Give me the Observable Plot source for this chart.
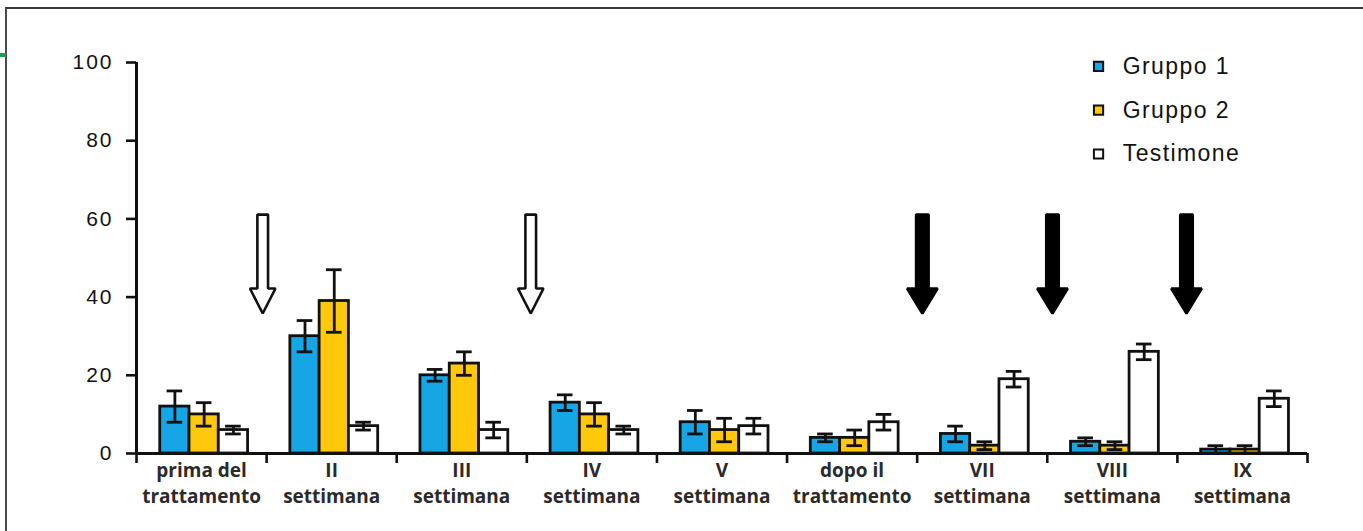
<!DOCTYPE html>
<html>
<head>
<meta charset="utf-8">
<script src="https://cdn.jsdelivr.net/npm/d3@7"></script>
<script src="https://cdn.jsdelivr.net/npm/@observablehq/plot@0.6"></script>
<style>
  html, body { margin: 0; padding: 0; background: #ffffff; overflow: hidden; }
  #wrap { position: relative; width: 1363px; height: 531px; }
  #frame { position: absolute; left: 5px; top: 7px; width: 1400px; height: 600px;
           border-top: 2px solid #3a3a3a; border-left: 2px solid #4a4a4a; }
  #green { position: absolute; left: 0; top: 53px; width: 6px; height: 4px; background: #1b9e4b; }
  #chart { position: absolute; left: 0; top: 0; }
</style>
</head>
<body>
<div id="wrap">
  <div id="frame"></div>
  <div id="green"></div>
  <div id="chart"></div>
</div>
<script>
// ---- data ----
const categories = [
  "prima del\ntrattamento", "II\nsettimana", "III\nsettimana", "IV\nsettimana",
  "V\nsettimana", "dopo il\ntrattamento", "VII\nsettimana", "VIII\nsettimana", "IX\nsettimana"
];
const seriesNames = ["Gruppo 1", "Gruppo 2", "Testimone"];
const seriesColors = ["#16a6e6", "#ffc80a", "#ffffff"];
const gruppo1     = [12, 30, 20, 13, 8, 4, 5, 3, 1];
const gruppo1Err  = [4, 4, 1.5, 2, 3, 1, 2, 1, 1];
const gruppo2     = [10, 39, 23, 10, 6, 4, 2, 2, 1];
const gruppo2Err  = [3, 8, 3, 3, 3, 2, 1, 1, 1];
const testimone   = [6, 7, 6, 6, 7, 8, 19, 26, 14];
const testimoneErr= [1, 1, 2, 1, 2, 2, 2, 2, 2];
const yTicks = [0, 20, 40, 60, 80, 100];
// treatment arrows (position along category axis) : hollow = first treatment, filled = second
const hollowArrowsAt = [0.97, 3.03];
const filledArrowsAt = [6.04, 7.04, 8.07];
const arrowTop = 61.1, arrowNeck = 42.2, arrowTip = 35.8;

// ---- build table ----
const values = [gruppo1, gruppo2, testimone];
const errors = [gruppo1Err, gruppo2Err, testimoneErr];
const rows = [];
seriesNames.forEach((s, si) => {
  categories.forEach((c, ci) => {
    rows.push({series: s, si, ci, value: values[si][ci], err: errors[si][ci]});
  });
});

const barW = 0.225, groupShift = 0.02, capHalf = 0.06;
const center = d => d.ci + 0.5 + groupShift + (d.si - 1) * barW;

function arrowPoints(xs, shaftHalf, headHalf) {
  const pts = [];
  xs.forEach((c, id) => {
    [[c - shaftHalf, arrowTop], [c + shaftHalf, arrowTop], [c + shaftHalf, arrowNeck],
     [c + headHalf, arrowNeck], [c, arrowTip], [c - headHalf, arrowNeck], [c - shaftHalf, arrowNeck]]
      .forEach(([x, y]) => pts.push({id, x, y}));
  });
  return pts;
}

const legendRows = seriesNames.map((s, i) => ({s, i, y: 99 - i * 11.2}));

const chart = Plot.plot({
  width: 1363,
  height: 531,
  marginLeft: 136,
  marginRight: 56,
  marginTop: 62,
  marginBottom: 78,
  style: {fontFamily: "'Liberation Sans', Arial, sans-serif", background: "transparent", color: "#111"},
  x: {type: "linear", domain: [0, 9], axis: null},
  y: {domain: [0, 100], axis: null},
  color: {domain: seriesNames, range: seriesColors},
  marks: [
    Plot.rect(rows, {
      x1: d => center(d) - barW / 2, x2: d => center(d) + barW / 2,
      y1: 0, y2: "value", fill: "series", stroke: "#111", strokeWidth: 2.8
    }),
    Plot.ruleX(rows, {x: center, y1: d => Math.max(0, d.value - d.err), y2: d => d.value + d.err, stroke: "#111", strokeWidth: 2.8}),
    Plot.ruleY(rows, {y: d => d.value + d.err, x1: d => center(d) - capHalf, x2: d => center(d) + capHalf, stroke: "#111", strokeWidth: 2.8}),
    Plot.ruleY(rows, {y: d => Math.max(0, d.value - d.err), x1: d => center(d) - capHalf, x2: d => center(d) + capHalf, stroke: "#111", strokeWidth: 2.8}),
    // axes
    Plot.ruleY([0], {x1: 0, x2: 9, stroke: "#111", strokeWidth: 3}),
    Plot.ruleX([0], {y1: 0, y2: 100, stroke: "#111", strokeWidth: 3}),
    Plot.axisY(yTicks, {tickSize: 10, tickPadding: 13, fontSize: 21, strokeWidth: 2.6, stroke: "#111", fill: "#111", label: null}),
    Plot.axisX(d3.range(10), {tickSize: 10, tickFormat: () => "", strokeWidth: 2.6, stroke: "#111", label: null}),
    Plot.text(categories, {
      x: (d, i) => i + 0.5, y: 0, text: d => d, dy: 5, lineAnchor: "top",
      fontSize: 19, fontWeight: "bold", fontFamily: "'Open Sans', sans-serif",
      lineHeight: 1.37, fill: "#2a2a2a"
    }),
    // arrows
    Plot.line(arrowPoints(hollowArrowsAt, 0.041, 0.098), {
      x: "x", y: "y", z: "id", curve: "linear-closed", fill: "white", stroke: "#111", strokeWidth: 2.6, strokeLinejoin: "miter"
    }),
    Plot.line(arrowPoints(filledArrowsAt, 0.048, 0.117), {
      x: "x", y: "y", z: "id", curve: "linear-closed", fill: "#000", stroke: "#000", strokeWidth: 2.6, strokeLinejoin: "miter"
    }),
    // legend
    Plot.dot(legendRows, {x: 7.394, y: "y", symbol: "square", r: 5.2, fill: d => d.s, stroke: "#111", strokeWidth: 2}),
    Plot.text(legendRows, {x: 7.58, y: "y", text: "s", textAnchor: "start", fontSize: 23, fill: "#111"})
  ]
});
// widen the Arial-like tick numbers and legend labels as in the reference
chart.querySelectorAll('g[aria-label="y-axis tick label"]').forEach(g => g.setAttribute("letter-spacing", "2px"));
const textGroups = chart.querySelectorAll('g[aria-label="text"]');
textGroups[textGroups.length - 1].setAttribute("letter-spacing", "1.4px");
document.getElementById("chart").appendChild(chart);
</script>
</body>
</html>
